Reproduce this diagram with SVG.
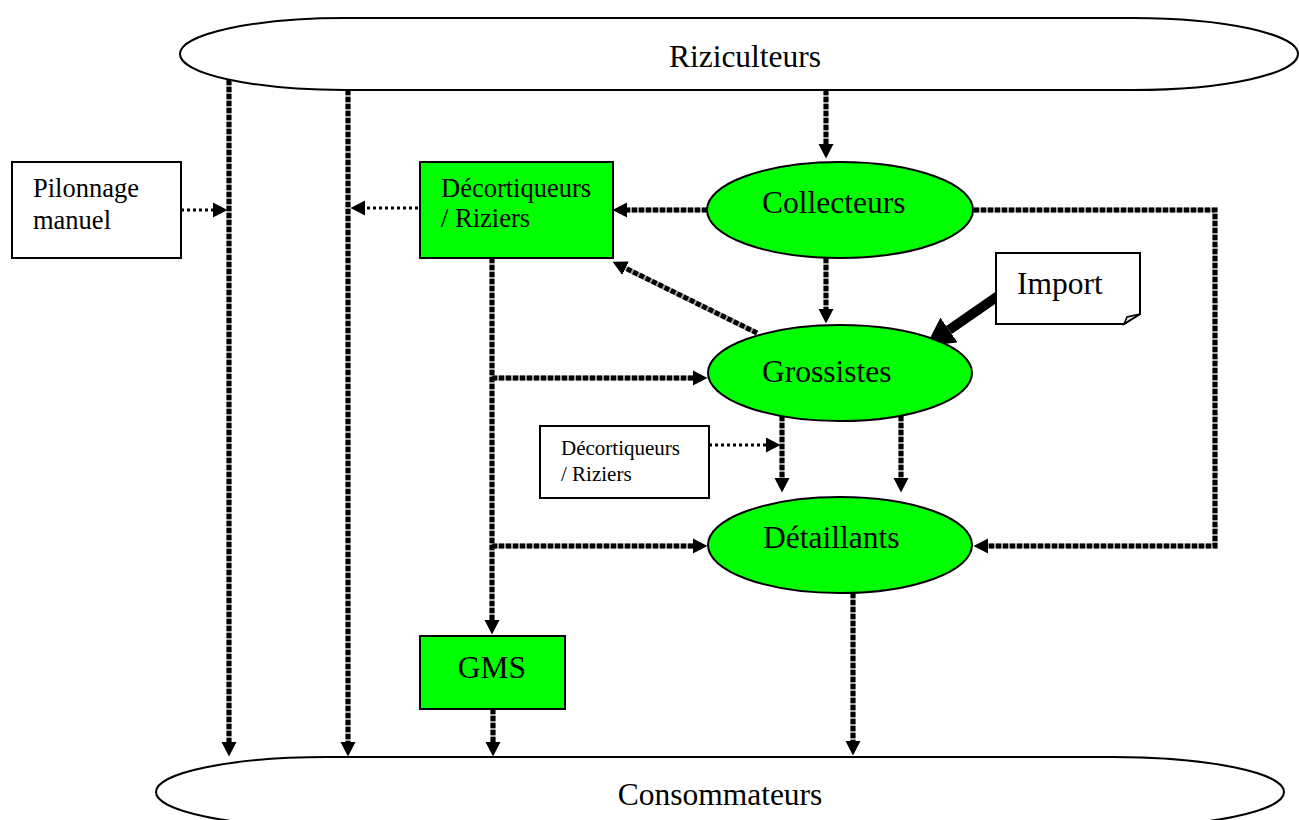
<svg xmlns="http://www.w3.org/2000/svg" width="1299" height="820" viewBox="0 0 1299 820">
<defs>
<style>
.shape{stroke:#000;stroke-width:2}
.green{fill:#00ff00}
.white{fill:#fff}
.t{font-family:"Liberation Serif","Times New Roman",serif;fill:#000}
.big{font-size:31.5px}
.mid{font-size:26.5px}
.small{font-size:21px}
.under{fill:none;stroke:#a0a0a0;stroke-width:5}
.dash{fill:none;stroke:#000;stroke-width:5;stroke-dasharray:5 2;marker-end:url(#ah)}
.dot{fill:none;stroke:#000;stroke-width:3;stroke-dasharray:3 3;marker-end:url(#ah)}
.imp{fill:none;stroke:#000;stroke-width:10;marker-end:url(#bigah)}
</style>
<marker id="ah" markerUnits="userSpaceOnUse" viewBox="0 0 15 16" markerWidth="15" markerHeight="16" refX="0" refY="8" orient="auto">
<path d="M0,0.5 L14.5,8 L0,15.5 z" fill="#000"/>
</marker>
<marker id="bigah" markerUnits="userSpaceOnUse" viewBox="0 0 28 30" markerWidth="28" markerHeight="30" refX="0" refY="15" orient="auto">
<path d="M0,0 L28,15 L0,30 z" fill="#000"/>
</marker>
</defs>
<rect width="1299" height="820" fill="#fff"/>

<g id="riziculteurs">
<rect class="shape white" x="180" y="18" width="1118" height="72" rx="165" ry="36"/>
<text class="t big" x="745" y="67" text-anchor="middle">Riziculteurs</text>
</g>
<g id="consommateurs">
<rect class="shape white" x="156" y="757" width="1128" height="70" rx="171" ry="35"/>
<text class="t big" x="720" y="805" text-anchor="middle">Consommateurs</text>
</g>

<g id="connectors">
<g id="c-riz-coll"><path class="under" d="M826,90 V144"/><path class="dash" d="M826,90 V144"/></g>
<g id="c-riz-cons1"><path class="under" d="M229,80 V742"/><path class="dash" d="M229,80 V742"/></g>
<g id="c-riz-cons2"><path class="under" d="M348,90 V742"/><path class="dash" d="M348,90 V742"/></g>
<g id="c-coll-dec"><path class="under" d="M707,210 H627"/><path class="dash" d="M707,210 H627"/></g>
<g id="c-gross-dec"><path class="under" d="M757,333 L625.6,268.2"/><path class="dash" d="M757,333 L625.6,268.2"/></g>
<g id="c-coll-gross"><path class="under" d="M826,258 V309"/><path class="dash" d="M826,258 V309"/></g>
<g id="c-coll-det"><path class="under" d="M974,210 H1215 V546 H988"/><path class="dash" d="M974,210 H1215 V546 H988"/></g>
<g id="c-dec-gms"><path class="under" d="M492,258 V620"/><path class="dash" d="M492,258 V620"/></g>
<g id="c-dec-gross"><path class="under" d="M492,378 H693"/><path class="dash" d="M492,378 H693"/></g>
<g id="c-dec-det"><path class="under" d="M492,546 H693"/><path class="dash" d="M492,546 H693"/></g>
<g id="c-gross-det1"><path class="under" d="M782,416 V478"/><path class="dash" d="M782,416 V478"/></g>
<g id="c-gross-det2"><path class="under" d="M901,416 V478"/><path class="dash" d="M901,416 V478"/></g>
<g id="c-det-cons"><path class="under" d="M853,593 V741"/><path class="dash" d="M853,593 V741"/></g>
<g id="c-gms-cons"><path class="under" d="M493,709 V742"/><path class="dash" d="M493,709 V742"/></g>
<path id="d-pilon" class="dot" d="M181,210 H213"/>
<path id="d-dec" class="dot" d="M418,208 H365"/>
<path id="d-dec2" class="dot" d="M709,445 H766"/>
<path id="c-import" class="imp" d="M998,296 L949,330"/>
</g>

<g id="pilonnage">
<rect class="shape white" x="12" y="162" width="169" height="96"/>
<text class="t mid" x="33" y="197">Pilonnage</text>
<text class="t mid" x="33" y="229">manuel</text>
</g>
<g id="decortiqueurs">
<rect class="shape green" x="420" y="162" width="193" height="96"/>
<text class="t mid" x="441" y="197">Décortiqueurs</text>
<text class="t mid" x="441" y="227">/ Riziers</text>
</g>
<g id="collecteurs">
<ellipse class="shape green" cx="840" cy="210" rx="133" ry="48"/>
<text class="t big" x="762" y="213">Collecteurs</text>
</g>
<g id="import">
<path class="shape white" d="M996,253 H1140 V314 L1124,324 H996 Z"/>
<path d="M1124,324 L1127,317 L1140,314 Z" fill="#ddd" stroke="#000" stroke-width="1.5"/>
<text class="t big" x="1017" y="294">Import</text>
</g>
<g id="grossistes">
<ellipse class="shape green" cx="840" cy="373" rx="132" ry="48"/>
<text class="t big" x="762" y="382">Grossistes</text>
</g>
<g id="decortiqueurs2">
<rect class="shape white" x="540" y="426" width="169" height="72"/>
<text class="t small" x="561" y="455">Décortiqueurs</text>
<text class="t small" x="561" y="481">/ Riziers</text>
</g>
<g id="detaillants">
<ellipse class="shape green" cx="840" cy="545" rx="132" ry="48"/>
<text class="t big" x="763" y="548">Détaillants</text>
</g>
<g id="gms">
<rect class="shape green" x="420" y="636" width="145" height="73"/>
<text class="t big" x="492" y="678" text-anchor="middle">GMS</text>
</g>
</svg>
